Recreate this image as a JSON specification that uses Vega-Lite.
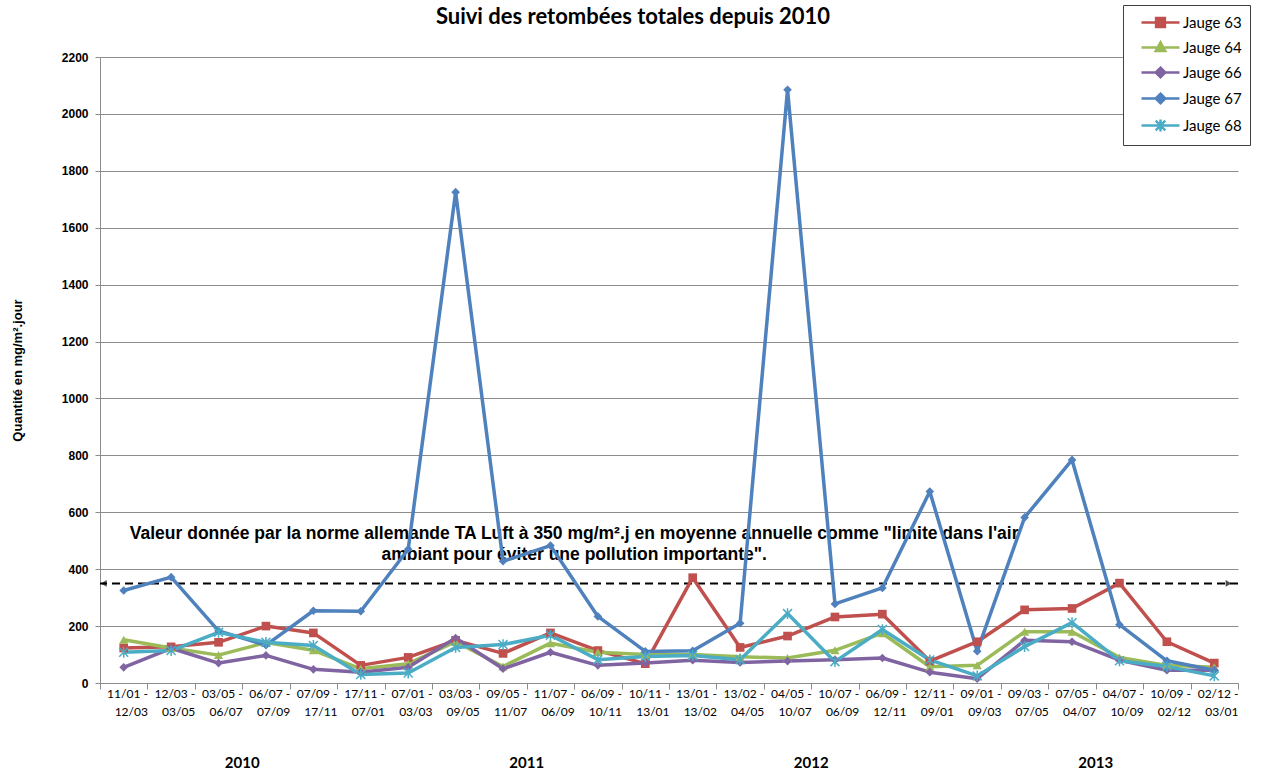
{
  "$schema": "https://vega.github.io/schema/vega-lite/v6.json",
  "width": 1138,
  "height": 626,
  "autosize": "none",
  "padding": {"left": 100, "top": 57, "right": 23, "bottom": 92},
  "background": "white",
  "title": {"text": "Suivi des retombées totales depuis 2010", "font": "Lato", "fontSize": 22, "fontWeight": "bold", "color": "#000", "anchor": "middle", "offset": -24, "dx": -36},
  "datasets": {
    "j": [
      {"p": "11/01 -|12/03", "s": "Jauge 63", "v": 123}, {"p": "12/03 -|03/05", "s": "Jauge 63", "v": 127}, {"p": "03/05 -|06/07", "s": "Jauge 63", "v": 143}, {"p": "06/07 -|07/09", "s": "Jauge 63", "v": 200}, {"p": "07/09 -|17/11", "s": "Jauge 63", "v": 176}, {"p": "17/11 -|07/01", "s": "Jauge 63", "v": 62}, {"p": "07/01 -|03/03", "s": "Jauge 63", "v": 90}, {"p": "03/03 -|09/05", "s": "Jauge 63", "v": 150}, {"p": "09/05 -|11/07", "s": "Jauge 63", "v": 104}, {"p": "11/07 -|06/09", "s": "Jauge 63", "v": 176}, {"p": "06/09 -|10/11", "s": "Jauge 63", "v": 114}, {"p": "10/11 -|13/01", "s": "Jauge 63", "v": 68}, {"p": "13/01 -|13/02", "s": "Jauge 63", "v": 370}, {"p": "13/02 -|04/05", "s": "Jauge 63", "v": 125}, {"p": "04/05 -|10/07", "s": "Jauge 63", "v": 165}, {"p": "10/07 -|06/09", "s": "Jauge 63", "v": 232}, {"p": "06/09 -|12/11", "s": "Jauge 63", "v": 242}, {"p": "12/11 -|09/01", "s": "Jauge 63", "v": 77}, {"p": "09/01 -|09/03", "s": "Jauge 63", "v": 145}, {"p": "09/03 -|07/05", "s": "Jauge 63", "v": 257}, {"p": "07/05 -|04/07", "s": "Jauge 63", "v": 262}, {"p": "04/07 -|10/09", "s": "Jauge 63", "v": 351}, {"p": "10/09 -|02/12", "s": "Jauge 63", "v": 145}, {"p": "02/12 -|03/01", "s": "Jauge 63", "v": 70},
      {"p": "11/01 -|12/03", "s": "Jauge 64", "v": 152}, {"p": "12/03 -|03/05", "s": "Jauge 64", "v": 123}, {"p": "03/05 -|06/07", "s": "Jauge 64", "v": 98}, {"p": "06/07 -|07/09", "s": "Jauge 64", "v": 142}, {"p": "07/09 -|17/11", "s": "Jauge 64", "v": 115}, {"p": "17/11 -|07/01", "s": "Jauge 64", "v": 50}, {"p": "07/01 -|03/03", "s": "Jauge 64", "v": 68}, {"p": "03/03 -|09/05", "s": "Jauge 64", "v": 145}, {"p": "09/05 -|11/07", "s": "Jauge 64", "v": 58}, {"p": "11/07 -|06/09", "s": "Jauge 64", "v": 140}, {"p": "06/09 -|10/11", "s": "Jauge 64", "v": 108}, {"p": "10/11 -|13/01", "s": "Jauge 64", "v": 100}, {"p": "13/01 -|13/02", "s": "Jauge 64", "v": 100}, {"p": "13/02 -|04/05", "s": "Jauge 64", "v": 92}, {"p": "04/05 -|10/07", "s": "Jauge 64", "v": 88}, {"p": "10/07 -|06/09", "s": "Jauge 64", "v": 115}, {"p": "06/09 -|12/11", "s": "Jauge 64", "v": 175}, {"p": "12/11 -|09/01", "s": "Jauge 64", "v": 57}, {"p": "09/01 -|09/03", "s": "Jauge 64", "v": 62}, {"p": "09/03 -|07/05", "s": "Jauge 64", "v": 180}, {"p": "07/05 -|04/07", "s": "Jauge 64", "v": 180}, {"p": "04/07 -|10/09", "s": "Jauge 64", "v": 90}, {"p": "10/09 -|02/12", "s": "Jauge 64", "v": 62}, {"p": "02/12 -|03/01", "s": "Jauge 64", "v": 55},
      {"p": "11/01 -|12/03", "s": "Jauge 66", "v": 55}, {"p": "12/03 -|03/05", "s": "Jauge 66", "v": 122}, {"p": "03/05 -|06/07", "s": "Jauge 66", "v": 70}, {"p": "06/07 -|07/09", "s": "Jauge 66", "v": 97}, {"p": "07/09 -|17/11", "s": "Jauge 66", "v": 48}, {"p": "17/11 -|07/01", "s": "Jauge 66", "v": 38}, {"p": "07/01 -|03/03", "s": "Jauge 66", "v": 55}, {"p": "03/03 -|09/05", "s": "Jauge 66", "v": 158}, {"p": "09/05 -|11/07", "s": "Jauge 66", "v": 50}, {"p": "11/07 -|06/09", "s": "Jauge 66", "v": 108}, {"p": "06/09 -|10/11", "s": "Jauge 66", "v": 62}, {"p": "10/11 -|13/01", "s": "Jauge 66", "v": 70}, {"p": "13/01 -|13/02", "s": "Jauge 66", "v": 80}, {"p": "13/02 -|04/05", "s": "Jauge 66", "v": 72}, {"p": "04/05 -|10/07", "s": "Jauge 66", "v": 77}, {"p": "10/07 -|06/09", "s": "Jauge 66", "v": 82}, {"p": "06/09 -|12/11", "s": "Jauge 66", "v": 88}, {"p": "12/11 -|09/01", "s": "Jauge 66", "v": 38}, {"p": "09/01 -|09/03", "s": "Jauge 66", "v": 15}, {"p": "09/03 -|07/05", "s": "Jauge 66", "v": 150}, {"p": "07/05 -|04/07", "s": "Jauge 66", "v": 145}, {"p": "04/07 -|10/09", "s": "Jauge 66", "v": 80}, {"p": "10/09 -|02/12", "s": "Jauge 66", "v": 45}, {"p": "02/12 -|03/01", "s": "Jauge 66", "v": 45},
      {"p": "11/01 -|12/03", "s": "Jauge 67", "v": 325}, {"p": "12/03 -|03/05", "s": "Jauge 67", "v": 372}, {"p": "03/05 -|06/07", "s": "Jauge 67", "v": 183}, {"p": "06/07 -|07/09", "s": "Jauge 67", "v": 133}, {"p": "07/09 -|17/11", "s": "Jauge 67", "v": 254}, {"p": "17/11 -|07/01", "s": "Jauge 67", "v": 252}, {"p": "07/01 -|03/03", "s": "Jauge 67", "v": 470}, {"p": "03/03 -|09/05", "s": "Jauge 67", "v": 1725}, {"p": "09/05 -|11/07", "s": "Jauge 67", "v": 428}, {"p": "11/07 -|06/09", "s": "Jauge 67", "v": 483}, {"p": "06/09 -|10/11", "s": "Jauge 67", "v": 234}, {"p": "10/11 -|13/01", "s": "Jauge 67", "v": 111}, {"p": "13/01 -|13/02", "s": "Jauge 67", "v": 113}, {"p": "13/02 -|04/05", "s": "Jauge 67", "v": 210}, {"p": "04/05 -|10/07", "s": "Jauge 67", "v": 2085}, {"p": "10/07 -|06/09", "s": "Jauge 67", "v": 278}, {"p": "06/09 -|12/11", "s": "Jauge 67", "v": 334}, {"p": "12/11 -|09/01", "s": "Jauge 67", "v": 673}, {"p": "09/01 -|09/03", "s": "Jauge 67", "v": 112}, {"p": "09/03 -|07/05", "s": "Jauge 67", "v": 582}, {"p": "07/05 -|04/07", "s": "Jauge 67", "v": 784}, {"p": "04/07 -|10/09", "s": "Jauge 67", "v": 205}, {"p": "10/09 -|02/12", "s": "Jauge 67", "v": 78}, {"p": "02/12 -|03/01", "s": "Jauge 67", "v": 45},
      {"p": "11/01 -|12/03", "s": "Jauge 68", "v": 108}, {"p": "12/03 -|03/05", "s": "Jauge 68", "v": 114}, {"p": "03/05 -|06/07", "s": "Jauge 68", "v": 178}, {"p": "06/07 -|07/09", "s": "Jauge 68", "v": 143}, {"p": "07/09 -|17/11", "s": "Jauge 68", "v": 132}, {"p": "17/11 -|07/01", "s": "Jauge 68", "v": 30}, {"p": "07/01 -|03/03", "s": "Jauge 68", "v": 35}, {"p": "03/03 -|09/05", "s": "Jauge 68", "v": 125}, {"p": "09/05 -|11/07", "s": "Jauge 68", "v": 135}, {"p": "11/07 -|06/09", "s": "Jauge 68", "v": 168}, {"p": "06/09 -|10/11", "s": "Jauge 68", "v": 82}, {"p": "10/11 -|13/01", "s": "Jauge 68", "v": 93}, {"p": "13/01 -|13/02", "s": "Jauge 68", "v": 97}, {"p": "13/02 -|04/05", "s": "Jauge 68", "v": 82}, {"p": "04/05 -|10/07", "s": "Jauge 68", "v": 244}, {"p": "10/07 -|06/09", "s": "Jauge 68", "v": 75}, {"p": "06/09 -|12/11", "s": "Jauge 68", "v": 188}, {"p": "12/11 -|09/01", "s": "Jauge 68", "v": 81}, {"p": "09/01 -|09/03", "s": "Jauge 68", "v": 25}, {"p": "09/03 -|07/05", "s": "Jauge 68", "v": 128}, {"p": "07/05 -|04/07", "s": "Jauge 68", "v": 212}, {"p": "04/07 -|10/09", "s": "Jauge 68", "v": 78}, {"p": "10/09 -|02/12", "s": "Jauge 68", "v": 58}, {"p": "02/12 -|03/01", "s": "Jauge 68", "v": 25}
    ]
  },
  "layer": [
    {
      "layer": [
        {
          "data": {"values": [{"v": 350}]},
          "mark": {"type": "rule", "strokeDash": [8, 5], "strokeWidth": 2, "color": "#000"},
          "encoding": {"y": {"field": "v", "type": "quantitative"}}
        },
        {
          "data": {"values": [{"p": "11/01 -|12/03", "v": 350}]},
          "mark": {"type": "point", "shape": "triangle-left", "filled": true, "color": "#000", "size": 45},
          "encoding": {"x": {"field": "p", "type": "nominal", "bandPosition": 0.08}, "y": {"field": "v", "type": "quantitative"}}
        },
        {
          "data": {"values": [{"p": "02/12 -|03/01", "v": 350}]},
          "mark": {"type": "point", "shape": "triangle-right", "filled": true, "color": "#000", "size": 45},
          "encoding": {"x": {"field": "p", "type": "nominal", "bandPosition": 0.8}, "y": {"field": "v", "type": "quantitative"}}
        },
        {
          "data": {"values": [{"p": "11/07 -|06/09", "v": 523, "t": "Valeur donnée  par la norme allemande TA Luft à 350 mg/m².j en moyenne annuelle comme \"limite dans l'air\nambiant pour éviter une pollution importante\"."}]},
          "mark": {"type": "text", "lineBreak": "\n", "font": "Liberation Sans", "fontWeight": "bold", "fontSize": 17.5, "lineHeight": 21, "align": "center", "baseline": "middle", "color": "#000"},
          "encoding": {"x": {"field": "p", "type": "nominal", "bandPosition": 1}, "y": {"field": "v", "type": "quantitative"}, "text": {"field": "t", "type": "nominal"}}
        },
        {
          "data": {"name": "j"},
          "mark": {"type": "line", "strokeWidth": 3.5, "strokeJoin": "round"},
          "encoding": {
            "x": {
              "field": "p", "type": "nominal",
              "scale": {"type": "band", "domain": ["11/01 -|12/03","12/03 -|03/05","03/05 -|06/07","06/07 -|07/09","07/09 -|17/11","17/11 -|07/01","07/01 -|03/03","03/03 -|09/05","09/05 -|11/07","11/07 -|06/09","06/09 -|10/11","10/11 -|13/01","13/01 -|13/02","13/02 -|04/05","04/05 -|10/07","10/07 -|06/09","06/09 -|12/11","12/11 -|09/01","09/01 -|09/03","09/03 -|07/05","07/05 -|04/07","04/07 -|10/09","10/09 -|02/12","02/12 -|03/01"], "paddingInner": 0, "paddingOuter": 0},
              "axis": {"title": null, "labelExpr": "datum.value ? split(datum.value, '|') : ''", "labelAngle": 0, "tickBand": "extent", "labelOffset": 23.7, "tickSize": 6, "tickColor": "#8c8c8c", "domainColor": "#8c8c8c", "labelFont": "Lato", "labelFontSize": 12, "labelColor": "#000", "labelLineHeight": 18, "labelPadding": 4, "labelOverlap": false, "labelBound": false, "grid": false}
            },
            "y": {
              "field": "v", "type": "quantitative",
              "scale": {"domain": [0, 2200], "nice": false},
              "axis": {"title": "Quantité en mg/m².jour", "format": "d", "values": [0,200,400,600,800,1000,1200,1400,1600,1800,2000,2200], "grid": true, "gridColor": "#8c8c8c", "domainColor": "#8c8c8c", "tickColor": "#8c8c8c", "tickSize": 5, "labelFont": "Liberation Sans", "labelFontWeight": "bold", "labelFontSize": 12, "labelColor": "#000", "labelPadding": 7, "titleFont": "Liberation Sans", "titleFontSize": 13, "titleFontWeight": "bold", "titleColor": "#000", "titlePadding": 37}
            },
            "color": {
              "field": "s", "type": "nominal",
              "scale": {"domain": ["Jauge 63","Jauge 64","Jauge 66","Jauge 67","Jauge 68"], "range": ["#C0504D","#9BBB59","#8064A2","#4F81BD","#4BACC6"]},
              "legend": {"orient": "none", "legendX": 1023, "legendY": -52, "title": null, "fillColor": "#fff", "strokeColor": "#404040", "padding": 8, "rowPadding": 5, "symbolSize": 256, "labelFont": "Lato", "labelFontSize": 15, "labelColor": "#000", "labelOffset": 33, "symbolStrokeWidth": 2.5,
                "encode": {"symbols": {"update": {
                  "shape": {"signal": "datum.value === 'Jauge 63' ? 'M0.125,0H4.875M1.95,-0.55H3.05V0.55H1.95Z' : datum.value === 'Jauge 64' ? 'M0.125,0H4.875M2.5,-0.65L3.1,0.45H1.9Z' : datum.value === 'Jauge 68' ? 'M0.125,0H4.875M1.9,-0.6L3.1,0.6M1.9,0.6L3.1,-0.6M2.5,-0.75V0.75' : 'M0.125,0H4.875M2.5,-0.6L3.1,0L2.5,0.6L1.9,0Z'"},
                  "fill": {"scale": "color", "field": "value"},
                  "stroke": {"scale": "color", "field": "value"},
                  "strokeWidth": {"value": 2.5},
                  "size": {"value": 256},
                  "opacity": {"value": 1}
                }}}
              }
            },
            "order": {"value": null}
          }
        },
        {
          "data": {"name": "j"},
          "transform": [{"filter": "datum.s === 'Jauge 63'"}],
          "mark": {"type": "point", "shape": "square", "filled": true, "size": 75, "color": "#C0504D", "opacity": 1},
          "encoding": {"x": {"field": "p", "type": "nominal"}, "y": {"field": "v", "type": "quantitative"}}
        },
        {
          "data": {"name": "j"},
          "transform": [{"filter": "datum.s === 'Jauge 64'"}],
          "mark": {"type": "point", "shape": "triangle-up", "filled": true, "size": 85, "color": "#9BBB59", "opacity": 1},
          "encoding": {"x": {"field": "p", "type": "nominal"}, "y": {"field": "v", "type": "quantitative"}}
        },
        {
          "data": {"name": "j"},
          "transform": [{"filter": "datum.s === 'Jauge 66'"}],
          "mark": {"type": "point", "shape": "diamond", "filled": true, "size": 75, "color": "#8064A2", "opacity": 1},
          "encoding": {"x": {"field": "p", "type": "nominal"}, "y": {"field": "v", "type": "quantitative"}}
        },
        {
          "data": {"name": "j"},
          "transform": [{"filter": "datum.s === 'Jauge 67'"}],
          "mark": {"type": "point", "shape": "diamond", "filled": true, "size": 75, "color": "#4F81BD", "opacity": 1},
          "encoding": {"x": {"field": "p", "type": "nominal"}, "y": {"field": "v", "type": "quantitative"}}
        },
        {
          "data": {"name": "j"},
          "transform": [{"filter": "datum.s === 'Jauge 68'"}],
          "mark": {"type": "point", "shape": "M-1,-1L1,1M-1,1L1,-1M0,-1.2L0,1.2", "filled": false, "size": 80, "strokeWidth": 1.5, "color": "#4BACC6", "opacity": 1},
          "encoding": {"x": {"field": "p", "type": "nominal"}, "y": {"field": "v", "type": "quantitative"}}
        }
      ]
    },
    {
      "data": {"values": [{"yr": "2010"}, {"yr": "2011"}, {"yr": "2012"}, {"yr": "2013"}]},
      "mark": {"type": "point", "opacity": 0},
      "encoding": {
        "x": {"field": "yr", "type": "nominal", "scale": {"type": "band", "paddingInner": 0, "paddingOuter": 0},
          "axis": {"orient": "bottom", "title": null, "domain": false, "ticks": false, "grid": false, "labelAngle": 0, "labelPadding": 72, "labelFont": "Lato", "labelFontSize": 15, "labelFontWeight": "bold", "labelColor": "#000"}}
      }
    }
  ],
  "resolve": {"scale": {"x": "independent"}, "axis": {"x": "independent"}},
  "config": {"view": {"stroke": null}}
}
